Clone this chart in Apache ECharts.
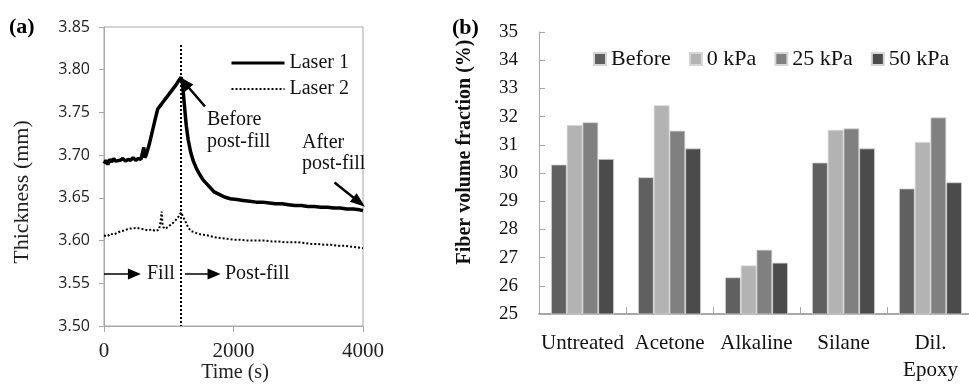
<!DOCTYPE html>
<html>
<head>
<meta charset="utf-8">
<script src="https://cdn.jsdelivr.net/npm/echarts@6/dist/echarts.min.js"></script>
<style>
  html, body { margin: 0; padding: 0; background: #fff; }
  #chart { width: 969px; height: 384px; }
</style>
</head>
<body>
<div id="chart"></div>
<script>
// (a) thickness measured by the two lasers during fill / post-fill
const laser1Time = [0,30,60,90,120,150,180,210,250,290,330,370,410,450,490,530,570,600,615,630,650,
  700,750,800,830,870,900,960,1010,1060,1110,1160,1190,1215,1240,1270,1300,1340,1380,1430,1480,1530,1580,
  1640,1700,1780,1860,1950,2050,2150,2250,2350,2450,2550,2650,2750,2850,2950,3050,3150,3250,3350,3450,
  3550,3650,3750,3850,3950,4000];
const laser1Thickness = [3.690,3.694,3.689,3.695,3.692,3.696,3.693,3.695,3.694,3.696,3.693,3.695,3.694,
  3.697,3.694,3.696,3.695,3.697,3.709,3.697,3.700,3.713,3.729,3.745,3.754,3.758,3.761,3.767,3.772,3.777,
  3.782,3.788,3.791,3.782,3.760,3.735,3.718,3.703,3.693,3.684,3.677,3.671,3.667,3.662,3.657,3.654,3.651,
  3.649,3.648,3.647,3.646,3.645,3.645,3.644,3.643,3.643,3.642,3.641,3.641,3.640,3.640,3.639,3.639,3.638,
  3.638,3.637,3.637,3.636,3.635];
const laser2Time = [0,50,100,150,200,260,320,380,440,500,560,620,680,740,800,850,875,890,905,930,970,
  1020,1070,1120,1160,1190,1220,1260,1300,1350,1420,1500,1600,1700,1800,1900,2000,2100,2200,2300,2400,
  2500,2600,2700,2800,2900,3000,3100,3200,3300,3400,3500,3600,3700,3800,3900,4000];
const laser2Thickness = [3.606,3.605,3.608,3.607,3.609,3.611,3.612,3.614,3.614,3.615,3.614,3.613,3.612,
  3.613,3.611,3.613,3.622,3.634,3.618,3.614,3.615,3.618,3.621,3.625,3.629,3.633,3.628,3.622,3.615,3.611,
  3.609,3.607,3.606,3.604,3.603,3.602,3.601,3.601,3.600,3.600,3.600,3.600,3.599,3.599,3.598,3.598,3.598,
  3.597,3.596,3.596,3.595,3.595,3.594,3.594,3.593,3.592,3.591];
const fillEndTime = 1190;
const thicknessTicks = { min: 3.50, max: 3.85, step: 0.05 };
const timeTicks = { min: 0, max: 4000, step: 2000 };

// (b) fibre volume fraction per surface treatment
const treatments = ['Untreated', 'Acetone', 'Alkaline', 'Silane', 'Dil.\nEpoxy'];
const before = [30.3, 29.85, 26.3, 30.37, 29.45];
const kPa0   = [31.7, 32.4, 26.72, 31.53, 31.1];
const kPa25  = [31.8, 31.5, 27.28, 31.58, 31.97];
const kPa50  = [30.5, 30.87, 26.82, 30.87, 29.67];
const fractionTicks = { min: 25, max: 35, step: 1 };

const SERIF = '"Liberation Serif", "Times New Roman", serif';
const SANS = '"Open Sans", "Liberation Sans", sans-serif';
const AXIS_GREY = '#a8a8a8';

const pairs = (xs, ys) => xs.map((x, i) => [x, ys[i]]);

function arrowLine(from, to, width, head) {
  return [
    { coord: from, symbol: 'none' },
    { coord: to, symbol: 'triangle', symbolSize: head, lineStyle: { color: '#000', width: width, type: 'solid' } }
  ];
}

const chart = echarts.init(document.getElementById('chart'), null, { renderer: 'canvas' });

const option = {
  animation: false,
  backgroundColor: '#fff',
  grid: [
    { left: 104, top: 27, width: 259, height: 299, show: true, borderColor: AXIS_GREY, borderWidth: 1,
      backgroundColor: 'transparent', outerBoundsMode: 'none', containLabel: false },
    { left: 539, top: 32, width: 435, height: 282, outerBoundsMode: 'none', containLabel: false }
  ],
  xAxis: [
    {
      gridIndex: 0, type: 'value', min: timeTicks.min, max: timeTicks.max, interval: timeTicks.step,
      axisLine: { show: true, onZero: false, lineStyle: { color: AXIS_GREY, width: 1 } },
      axisTick: { show: true, length: 6, lineStyle: { color: AXIS_GREY } },
      splitLine: { show: false },
      axisLabel: { margin: 15, color: '#222', fontFamily: SERIF, fontSize: 21, formatter: v => String(v) }
    },
    {
      gridIndex: 1, type: 'category', data: treatments,
      axisLine: { show: true, lineStyle: { color: AXIS_GREY, width: 2 } },
      axisTick: { show: true, inside: true, length: 7, lineStyle: { color: AXIS_GREY } },
      splitLine: { show: false },
      axisLabel: { interval: 0, margin: 16, color: '#111', fontFamily: SERIF, fontSize: 21, lineHeight: 27 }
    }
  ],
  yAxis: [
    {
      gridIndex: 0, type: 'value', min: thicknessTicks.min, max: thicknessTicks.max, interval: thicknessTicks.step,
      axisLine: { show: true, onZero: false, lineStyle: { color: AXIS_GREY, width: 1 } },
      axisTick: { show: true, length: 5, lineStyle: { color: AXIS_GREY } },
      splitLine: { show: false },
      axisLabel: { margin: 14, color: '#222', fontFamily: SANS, fontSize: 16,
        formatter: v => v.toFixed(2) }
    },
    {
      gridIndex: 1, type: 'value', min: fractionTicks.min, max: fractionTicks.max, interval: fractionTicks.step,
      axisLine: { show: true, lineStyle: { color: AXIS_GREY, width: 1 } },
      axisTick: { show: true, inside: true, length: 6, lineStyle: { color: AXIS_GREY } },
      splitLine: { show: false },
      axisLabel: { margin: 21, color: '#111', fontFamily: SERIF, fontSize: 19 }
    }
  ],
  legend: [
    {
      orient: 'vertical', left: 225, top: 48, itemWidth: 53, itemHeight: 14, itemGap: 6,
      selectedMode: false,
      data: [
        { name: 'Laser 1', itemStyle: { opacity: 0 }, lineStyle: { color: '#000', width: 3, type: 'solid' } },
        { name: 'Laser 2', itemStyle: { opacity: 0 }, lineStyle: { color: '#000', width: 2, type: [2, 2] } }
      ],
      textStyle: { fontFamily: SERIF, fontSize: 20, color: '#111' }
    },
    {
      orient: 'horizontal', left: 588, top: 43, itemWidth: 12, itemHeight: 12, itemGap: 18,
      icon: 'rect', selectedMode: false,
      data: ['Before', '0 kPa', '25 kPa', '50 kPa'],
      textStyle: { fontFamily: SERIF, fontSize: 22, color: '#111' }
    }
  ],
  series: [
    {
      name: 'Laser 1', type: 'line', xAxisIndex: 0, yAxisIndex: 0,
      data: pairs(laser1Time, laser1Thickness),
      symbol: 'none', smooth: false,
      lineStyle: { color: '#000', width: 3.5 },
      itemStyle: { color: '#000' },
      markLine: {
        silent: true, label: { show: false }, emphasis: { disabled: true },
        data: [
          // end of fill
          [
            { coord: [fillEndTime, 3.829], symbol: 'none' },
            { coord: [fillEndTime, thicknessTicks.min], symbol: 'none', lineStyle: { color: '#000', width: 2, type: [2, 2] } }
          ],
          arrowLine([1560, 3.757], [1240, 3.785], 2.5, [11, 15]),
          arrowLine([3560, 3.668], [3940, 3.645], 2.5, [11, 15]),
          arrowLine([0, 3.561], [470, 3.561], 1.5, [11, 13]),
          arrowLine([1250, 3.561], [1700, 3.561], 1.5, [11, 13])
        ]
      }
    },
    {
      name: 'Laser 2', type: 'line', xAxisIndex: 0, yAxisIndex: 0,
      data: pairs(laser2Time, laser2Thickness),
      symbol: 'none', smooth: false,
      lineStyle: { color: '#000', width: 2, type: [2, 2] },
      itemStyle: { color: '#000' }
    },
    { name: 'Before', type: 'bar', xAxisIndex: 1, yAxisIndex: 1, data: before,
      barGap: '0%', barCategoryGap: '27.6%',
      itemStyle: { color: '#606060', borderColor: '#d6d6d6', borderWidth: 0.8 } },
    { name: '0 kPa', type: 'bar', xAxisIndex: 1, yAxisIndex: 1, data: kPa0,
      barGap: '0%', barCategoryGap: '27.6%',
      itemStyle: { color: '#b3b3b3', borderColor: '#d6d6d6', borderWidth: 0.8 } },
    { name: '25 kPa', type: 'bar', xAxisIndex: 1, yAxisIndex: 1, data: kPa25,
      barGap: '0%', barCategoryGap: '27.6%',
      itemStyle: { color: '#808080', borderColor: '#d6d6d6', borderWidth: 0.8 } },
    { name: '50 kPa', type: 'bar', xAxisIndex: 1, yAxisIndex: 1, data: kPa50,
      barGap: '0%', barCategoryGap: '27.6%',
      itemStyle: { color: '#4b4b4b', borderColor: '#d6d6d6', borderWidth: 0.8 } }
  ],
  graphic: [
    { type: 'text', x: 9, y: 27, silent: true,
      style: { text: '(a)', font: 'bold 22px ' + SERIF, fill: '#000',
        align: 'left', textAlign: 'left', verticalAlign: 'middle', textVerticalAlign: 'middle' } },
    { type: 'text', x: 452, y: 28, silent: true,
      style: { text: '(b)', font: 'bold 22px ' + SERIF, fill: '#000',
        align: 'left', textAlign: 'left', verticalAlign: 'middle', textVerticalAlign: 'middle' } },
    { type: 'text', x: 22, y: 192, rotation: Math.PI / 2, silent: true,
      style: { text: 'Thickness (mm)', font: '22px ' + SERIF, fill: '#222',
        align: 'center', textAlign: 'center', verticalAlign: 'middle', textVerticalAlign: 'middle' } },
    { type: 'text', x: 235, y: 373, silent: true,
      style: { text: 'Time (s)', font: '20px ' + SERIF, fill: '#222',
        align: 'center', textAlign: 'center', verticalAlign: 'middle', textVerticalAlign: 'middle' } },
    { type: 'text', x: 207, y: 109, silent: true,
      style: { text: 'Before\npost-fill', font: '20px ' + SERIF, fill: '#111', lineHeight: 22,
        align: 'left', textAlign: 'left', verticalAlign: 'top', textVerticalAlign: 'top' } },
    { type: 'text', x: 302, y: 132, silent: true,
      style: { text: 'After\npost-fill', font: '20px ' + SERIF, fill: '#111', lineHeight: 21,
        align: 'left', textAlign: 'left', verticalAlign: 'top', textVerticalAlign: 'top' } },
    { type: 'text', x: 147, y: 274, silent: true,
      style: { text: 'Fill', font: '20px ' + SERIF, fill: '#111',
        align: 'left', textAlign: 'left', verticalAlign: 'middle', textVerticalAlign: 'middle' } },
    { type: 'text', x: 225, y: 274, silent: true,
      style: { text: 'Post-fill', font: '20px ' + SERIF, fill: '#111',
        align: 'left', textAlign: 'left', verticalAlign: 'middle', textVerticalAlign: 'middle' } },
    { type: 'text', x: 465, y: 152, rotation: Math.PI / 2, silent: true,
      style: { text: 'Fiber volume fraction (%)', font: 'bold 20px ' + SERIF, fill: '#111',
        align: 'center', textAlign: 'center', verticalAlign: 'middle', textVerticalAlign: 'middle' } }
  ]
};

chart.setOption(option);
</script>
</body>
</html>
